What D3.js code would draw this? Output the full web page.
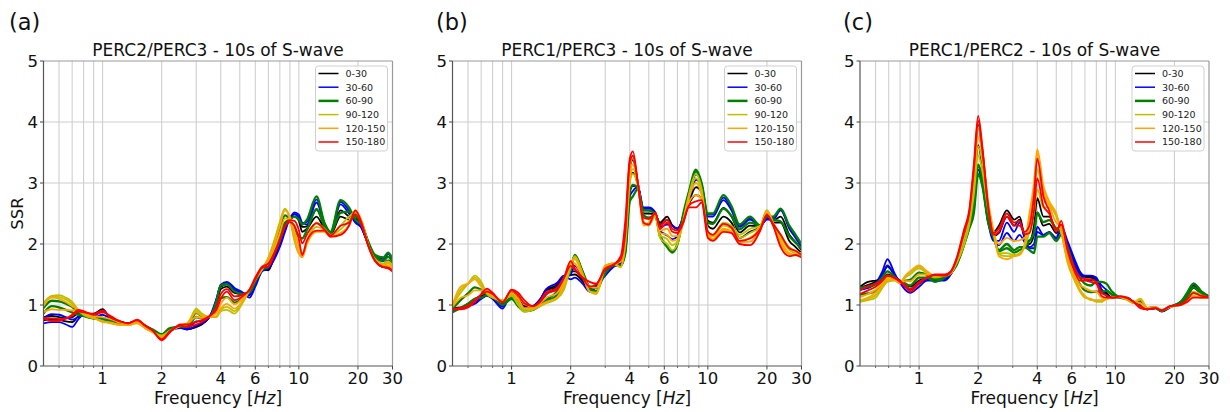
<!DOCTYPE html>
<html><head><meta charset="utf-8">
<script src="https://cdn.jsdelivr.net/npm/d3@7"></script>
<style>html,body{margin:0;padding:0;background:#fff;} svg{display:block;font-family:"DejaVu Sans",sans-serif;}</style>
</head><body><svg id="chart" width="1230" height="412"></svg>
<script>
// ---------- labels / ticks ----------
const angleBins = ["0-30","30-60","60-90","90-120","120-150","150-180"];
const binColors = ["#000000","#0000ff","#008000","#bfbf00","#ffa500","#ff0000"];
const panelLabels = ["(a)","(b)","(c)"];
const panelTitles = ["PERC2/PERC3 - 10s of S-wave","PERC1/PERC3 - 10s of S-wave","PERC1/PERC2 - 10s of S-wave"];
const xTickValues = [1,2,4,6,10,20,30];
const xGridValues = [0.6,0.7,0.8,0.9,1,2,3,4,5,6,7,8,9,10,20];
const xMinorTicks = [0.6,0.7,0.8,0.9,3,5,7,8,9];
const yTickValues = [0,1,2,3,4,5];

// ---------- panel (a) PERC2/PERC3 ----------
const freqA = [0.5,0.55,0.6,0.65,0.7,0.75,0.8,0.9,1.0,1.1,1.2,1.35,1.5,1.65,1.8,2.0,2.2,2.5,2.7,3.0,3.2,3.5,3.8,4.0,4.3,4.7,5.2,5.6,6.0,6.5,7.0,7.5,8.0,8.5,9.0,9.5,10.0,10.4,11.0,12.3,13.5,14.5,16.3,18.0,19.4,21.0,22.5,24.5,27.0,28.5,30];
const a_0_30 = [
 [0.80,0.82,0.80,0.78,0.80,0.86,0.86,0.86,0.93,0.76,0.72,0.70,0.74,0.66,0.58,0.46,0.58,0.64,0.60,0.64,0.68,0.80,1.00,1.26,1.30,1.20,1.18,1.22,1.38,1.58,1.57,1.80,2.05,2.30,2.42,2.45,2.38,2.20,2.25,2.45,2.25,2.15,2.45,2.40,2.42,2.25,2.00,1.72,1.62,1.62,1.58],
 [0.75,0.77,0.76,0.73,0.72,0.81,0.85,0.84,0.92,0.78,0.73,0.70,0.74,0.66,0.58,0.47,0.58,0.63,0.60,0.65,0.69,0.80,1.05,1.30,1.34,1.24,1.19,1.17,1.34,1.57,1.59,1.78,2.00,2.25,2.42,2.49,2.43,2.28,2.29,2.57,2.29,2.16,2.55,2.45,2.39,2.25,2.00,1.74,1.67,1.73,1.65]];
const a_30_60 = [
 [0.70,0.72,0.72,0.68,0.64,0.76,0.84,0.82,0.90,0.80,0.74,0.70,0.74,0.65,0.58,0.48,0.58,0.62,0.60,0.66,0.70,0.80,1.10,1.33,1.38,1.28,1.20,1.12,1.30,1.55,1.60,1.75,1.95,2.20,2.42,2.52,2.48,2.35,2.32,2.68,2.32,2.17,2.65,2.50,2.35,2.25,2.00,1.75,1.72,1.84,1.72],
 [0.78,0.85,0.84,0.80,0.76,0.80,0.83,0.80,0.84,0.77,0.72,0.69,0.74,0.66,0.59,0.50,0.60,0.63,0.62,0.73,0.74,0.80,1.08,1.33,1.36,1.25,1.19,1.16,1.34,1.57,1.62,1.83,2.05,2.28,2.41,2.49,2.44,2.34,2.36,2.73,2.34,2.19,2.69,2.55,2.38,2.28,2.03,1.79,1.75,1.85,1.74]];
const a_60_90 = [
 [0.86,0.98,0.96,0.92,0.88,0.84,0.82,0.78,0.78,0.74,0.70,0.68,0.73,0.66,0.60,0.52,0.62,0.64,0.64,0.80,0.78,0.80,1.06,1.32,1.34,1.22,1.18,1.20,1.38,1.58,1.63,1.90,2.15,2.35,2.40,2.45,2.40,2.32,2.40,2.78,2.35,2.20,2.72,2.60,2.40,2.30,2.05,1.82,1.78,1.86,1.75],
 [0.95,1.07,1.06,1.02,0.97,0.88,0.83,0.78,0.76,0.72,0.69,0.68,0.73,0.64,0.58,0.51,0.60,0.65,0.66,0.87,0.82,0.80,0.93,1.11,1.13,1.04,1.12,1.22,1.40,1.58,1.71,1.98,2.26,2.47,2.40,2.25,2.13,2.09,2.23,2.57,2.30,2.18,2.51,2.53,2.46,2.33,2.03,1.79,1.73,1.79,1.70]];
const a_90_120 = [
 [1.03,1.15,1.16,1.12,1.05,0.92,0.84,0.78,0.74,0.70,0.68,0.67,0.72,0.62,0.56,0.50,0.58,0.66,0.68,0.94,0.86,0.80,0.80,0.90,0.92,0.86,1.05,1.24,1.42,1.58,1.78,2.06,2.36,2.58,2.40,2.05,1.85,1.85,2.05,2.35,2.25,2.15,2.30,2.45,2.52,2.35,2.00,1.75,1.68,1.72,1.65],
 [1.01,1.14,1.13,1.09,1.02,0.92,0.85,0.79,0.73,0.71,0.68,0.67,0.71,0.62,0.56,0.49,0.57,0.66,0.69,0.91,0.84,0.80,0.81,0.92,0.97,0.90,1.07,1.25,1.42,1.59,1.77,2.03,2.33,2.57,2.43,2.09,1.85,1.82,2.03,2.28,2.23,2.14,2.24,2.38,2.54,2.35,2.00,1.74,1.67,1.70,1.64]];
const a_120_150 = [
 [0.98,1.12,1.10,1.05,0.98,0.92,0.86,0.80,0.72,0.71,0.68,0.67,0.70,0.62,0.55,0.47,0.56,0.66,0.70,0.88,0.82,0.80,0.82,0.94,1.02,0.94,1.08,1.25,1.42,1.60,1.75,2.00,2.30,2.55,2.45,2.12,1.85,1.78,2.00,2.20,2.20,2.12,2.18,2.30,2.55,2.35,2.00,1.72,1.65,1.68,1.62],
 [0.88,0.93,0.92,0.92,0.91,0.92,0.88,0.82,0.80,0.77,0.72,0.69,0.73,0.64,0.57,0.45,0.56,0.67,0.69,0.80,0.79,0.81,0.87,1.02,1.12,1.01,1.12,1.25,1.44,1.62,1.72,1.93,2.18,2.42,2.41,2.21,1.97,1.80,2.03,2.21,2.21,2.12,2.17,2.30,2.55,2.34,1.99,1.72,1.64,1.64,1.59]];
const a_150_180 = [
 [0.78,0.74,0.74,0.78,0.84,0.92,0.90,0.84,0.88,0.82,0.75,0.70,0.76,0.66,0.58,0.42,0.55,0.68,0.68,0.72,0.75,0.82,0.92,1.10,1.22,1.08,1.15,1.25,1.45,1.63,1.68,1.85,2.05,2.28,2.36,2.30,2.08,1.82,2.06,2.22,2.22,2.12,2.15,2.30,2.55,2.32,1.98,1.72,1.62,1.60,1.55],
 [0.79,0.78,0.77,0.78,0.82,0.89,0.88,0.85,0.91,0.79,0.74,0.70,0.75,0.66,0.58,0.44,0.57,0.66,0.64,0.68,0.72,0.81,0.96,1.18,1.26,1.14,1.17,1.24,1.42,1.61,1.63,1.83,2.05,2.29,2.39,2.38,2.23,2.01,2.16,2.34,2.24,2.14,2.30,2.35,2.49,2.29,1.99,1.72,1.62,1.61,1.57]];

// ---------- panel (b) PERC1/PERC3 ----------
const freqB = [0.5,0.55,0.6,0.65,0.7,0.75,0.8,0.9,1.0,1.08,1.16,1.28,1.4,1.5,1.7,1.85,2.0,2.1,2.3,2.5,2.7,3.0,3.3,3.6,3.8,4.0,4.15,4.4,4.7,5.0,5.4,5.7,6.2,6.6,7.0,7.5,8.0,8.7,9.3,10.0,10.6,12.0,13.2,14.5,16.4,18.5,20.0,21.5,23.5,26,28,30];
const b_0_30 = [
 [0.95,0.96,1.02,1.10,1.15,1.17,1.15,1.02,1.22,1.12,0.98,0.98,1.08,1.24,1.30,1.45,1.55,1.55,1.42,1.22,1.32,1.55,1.65,1.70,2.00,3.25,3.38,3.00,2.50,2.50,2.48,2.35,2.45,2.30,2.25,2.40,2.65,2.80,2.75,2.30,2.25,2.45,2.35,2.10,2.20,2.28,2.45,2.35,2.35,2.05,1.95,1.85],
 [0.94,0.95,1.00,1.06,1.13,1.16,1.13,0.98,1.21,1.10,0.97,0.98,1.09,1.25,1.33,1.47,1.49,1.50,1.39,1.22,1.31,1.52,1.64,1.70,1.95,3.05,3.17,2.98,2.55,2.55,2.50,2.32,2.39,2.30,2.25,2.43,2.68,2.93,2.85,2.38,2.35,2.59,2.45,2.19,2.30,2.29,2.43,2.38,2.45,2.15,2.03,1.90]];
const b_30_60 = [
 [0.92,0.94,0.98,1.02,1.10,1.15,1.10,0.94,1.20,1.08,0.96,0.98,1.10,1.26,1.36,1.48,1.42,1.45,1.35,1.22,1.30,1.48,1.62,1.70,1.90,2.85,2.95,2.95,2.60,2.60,2.52,2.28,2.32,2.30,2.25,2.45,2.70,3.05,2.95,2.45,2.45,2.72,2.55,2.28,2.40,2.30,2.40,2.40,2.55,2.25,2.10,1.95],
 [0.90,0.95,1.00,1.06,1.11,1.16,1.12,0.97,1.15,1.03,0.93,0.95,1.05,1.17,1.29,1.45,1.50,1.64,1.45,1.26,1.29,1.50,1.64,1.68,1.88,2.78,2.87,2.93,2.58,2.58,2.50,2.22,2.14,2.08,2.13,2.48,2.78,3.14,2.98,2.48,2.48,2.76,2.59,2.30,2.43,2.30,2.43,2.43,2.57,2.28,2.13,1.98]];
const b_60_90 = [
 [0.88,0.95,1.02,1.10,1.12,1.16,1.14,1.00,1.10,0.98,0.90,0.92,1.00,1.08,1.22,1.42,1.58,1.82,1.55,1.30,1.28,1.52,1.65,1.65,1.85,2.70,2.78,2.90,2.55,2.55,2.48,2.15,1.95,1.86,2.00,2.50,2.85,3.22,3.00,2.50,2.50,2.80,2.62,2.32,2.45,2.30,2.45,2.45,2.58,2.30,2.15,2.00],
 [0.94,1.08,1.19,1.29,1.25,1.17,1.13,1.04,1.13,0.99,0.90,0.92,0.99,1.06,1.16,1.34,1.60,1.81,1.54,1.26,1.23,1.56,1.67,1.64,1.93,2.85,2.97,2.93,2.47,2.43,2.47,2.13,1.98,1.88,2.00,2.45,2.83,3.19,2.95,2.35,2.33,2.58,2.46,2.24,2.35,2.30,2.50,2.40,2.37,2.13,2.02,1.93]];
const b_90_120 = [
 [1.00,1.20,1.35,1.48,1.38,1.18,1.12,1.08,1.15,1.00,0.89,0.92,0.98,1.03,1.10,1.25,1.62,1.80,1.52,1.22,1.18,1.60,1.68,1.62,2.00,3.00,3.15,2.95,2.38,2.30,2.45,2.10,2.00,1.90,2.00,2.40,2.80,3.15,2.90,2.20,2.15,2.35,2.30,2.15,2.25,2.30,2.55,2.35,2.15,1.95,1.88,1.85],
 [1.00,1.25,1.35,1.45,1.34,1.20,1.14,1.07,1.18,1.05,0.92,0.94,0.99,1.04,1.11,1.30,1.66,1.78,1.50,1.22,1.19,1.63,1.68,1.62,2.05,3.05,3.23,2.98,2.34,2.33,2.48,2.14,2.08,1.98,2.04,2.38,2.78,3.08,2.85,2.20,2.12,2.30,2.25,2.10,2.18,2.29,2.55,2.34,2.10,1.90,1.85,1.83]];
const b_120_150 = [
 [1.00,1.30,1.35,1.42,1.30,1.22,1.15,1.05,1.20,1.10,0.95,0.95,1.00,1.05,1.12,1.35,1.70,1.75,1.48,1.22,1.20,1.65,1.68,1.62,2.10,3.10,3.30,3.00,2.30,2.35,2.50,2.18,2.15,2.05,2.08,2.35,2.75,3.00,2.80,2.20,2.08,2.25,2.20,2.05,2.10,2.28,2.55,2.32,2.05,1.85,1.82,1.80],
 [0.97,1.12,1.16,1.24,1.24,1.25,1.18,1.05,1.23,1.15,1.02,0.97,1.03,1.12,1.19,1.40,1.71,1.68,1.47,1.30,1.28,1.63,1.67,1.71,2.25,3.25,3.41,3.00,2.33,2.34,2.51,2.22,2.25,2.13,2.13,2.35,2.68,2.80,2.74,2.15,2.07,2.23,2.19,2.03,2.04,2.25,2.52,2.31,2.00,1.83,1.82,1.79]];
const b_150_180 = [
 [0.93,0.93,0.96,1.05,1.18,1.27,1.20,1.05,1.25,1.20,1.08,0.98,1.05,1.18,1.25,1.45,1.72,1.60,1.45,1.38,1.35,1.60,1.66,1.80,2.40,3.40,3.52,3.00,2.35,2.32,2.52,2.25,2.35,2.20,2.18,2.35,2.60,2.60,2.68,2.10,2.05,2.20,2.18,2.00,1.98,2.22,2.48,2.30,1.95,1.80,1.82,1.78],
 [0.94,0.95,0.99,1.08,1.17,1.22,1.18,1.04,1.24,1.16,1.03,0.98,1.07,1.21,1.28,1.45,1.64,1.58,1.44,1.30,1.34,1.58,1.66,1.75,2.20,3.33,3.45,3.00,2.43,2.41,2.50,2.30,2.40,2.25,2.22,2.38,2.63,2.70,2.72,2.20,2.15,2.33,2.27,2.05,2.09,2.25,2.47,2.33,2.15,1.93,1.89,1.82]];

// ---------- panel (c) PERC1/PERC2 ----------
const freqC = [0.5,0.55,0.6,0.65,0.69,0.75,0.8,0.85,0.9,1.0,1.1,1.2,1.35,1.45,1.55,1.7,1.8,1.9,2.0,2.1,2.25,2.4,2.55,2.8,3.05,3.25,3.45,3.65,3.85,4.0,4.3,4.6,5.0,5.3,5.7,6.2,6.6,7.0,7.5,8.0,8.5,9.0,9.6,10.6,11.5,12.4,13.4,14.5,16,17.2,19,21.5,23.2,25,27.5,30];
const c_0_30 = [
 [1.30,1.38,1.40,1.42,1.50,1.45,1.40,1.35,1.30,1.40,1.45,1.48,1.45,1.52,1.72,2.15,2.45,3.10,3.95,3.50,2.60,2.20,2.30,2.55,2.40,2.45,2.12,2.05,2.30,2.75,2.45,2.45,2.25,2.25,1.95,1.65,1.50,1.46,1.45,1.40,1.25,1.20,1.12,1.13,1.10,1.05,1.00,0.93,0.95,0.90,0.97,1.02,1.12,1.28,1.18,1.13],
 [1.28,1.33,1.38,1.49,1.63,1.49,1.38,1.30,1.25,1.35,1.43,1.44,1.43,1.51,1.71,2.10,2.40,2.85,3.62,3.25,2.48,2.13,2.18,2.45,2.30,2.40,2.11,2.00,2.15,2.52,2.30,2.33,2.18,2.28,2.00,1.70,1.53,1.47,1.47,1.43,1.25,1.18,1.12,1.13,1.11,1.05,1.00,0.93,0.95,0.90,0.97,1.04,1.14,1.32,1.20,1.14]];
const c_30_60 = [
 [1.25,1.28,1.35,1.55,1.75,1.52,1.36,1.25,1.20,1.30,1.40,1.40,1.40,1.50,1.70,2.05,2.35,2.60,3.30,3.00,2.35,2.05,2.05,2.35,2.20,2.35,2.10,1.95,2.00,2.28,2.15,2.20,2.10,2.30,2.05,1.75,1.55,1.48,1.48,1.45,1.25,1.15,1.12,1.12,1.12,1.05,1.00,0.93,0.95,0.89,0.96,1.05,1.15,1.35,1.22,1.14],
 [1.27,1.29,1.35,1.50,1.65,1.49,1.37,1.30,1.26,1.38,1.43,1.39,1.43,1.51,1.68,2.03,2.30,2.55,3.22,2.98,2.35,2.08,1.98,2.18,2.05,2.15,2.03,1.93,1.93,2.20,2.14,2.19,2.08,2.23,2.00,1.68,1.50,1.42,1.40,1.42,1.32,1.25,1.17,1.12,1.11,1.05,1.01,0.94,0.95,0.90,0.97,1.05,1.18,1.35,1.22,1.14]];
const c_60_90 = [
 [1.28,1.30,1.34,1.45,1.55,1.46,1.38,1.35,1.32,1.45,1.45,1.38,1.45,1.52,1.65,2.00,2.25,2.50,3.15,2.95,2.35,2.10,1.90,2.00,1.90,1.95,1.95,1.90,1.85,2.12,2.12,2.18,2.05,2.15,1.95,1.60,1.45,1.35,1.32,1.38,1.38,1.35,1.22,1.12,1.10,1.05,1.02,0.94,0.95,0.90,0.97,1.05,1.20,1.35,1.22,1.14],
 [1.17,1.19,1.23,1.37,1.47,1.43,1.37,1.40,1.41,1.53,1.49,1.42,1.47,1.52,1.67,2.00,2.28,2.65,3.30,3.08,2.45,2.13,1.88,1.93,1.86,1.90,1.95,2.05,2.18,2.51,2.36,2.39,2.25,2.18,1.83,1.50,1.34,1.24,1.21,1.22,1.22,1.23,1.17,1.13,1.09,1.04,1.06,0.95,0.96,0.91,0.97,1.03,1.14,1.29,1.19,1.13]];
const c_90_120 = [
 [1.05,1.08,1.12,1.28,1.38,1.40,1.35,1.45,1.50,1.60,1.52,1.45,1.48,1.52,1.68,2.00,2.30,2.80,3.45,3.20,2.55,2.15,1.85,1.85,1.82,1.85,1.95,2.20,2.50,2.90,2.60,2.60,2.45,2.20,1.70,1.40,1.22,1.12,1.10,1.05,1.05,1.10,1.12,1.13,1.08,1.03,1.10,0.95,0.96,0.91,0.97,1.00,1.08,1.22,1.16,1.12],
 [1.07,1.10,1.16,1.30,1.40,1.41,1.36,1.47,1.53,1.63,1.54,1.47,1.48,1.52,1.70,2.10,2.38,2.95,3.60,3.35,2.63,2.18,1.83,1.80,1.81,1.84,1.98,2.35,2.75,3.23,2.78,2.65,2.48,2.20,1.73,1.43,1.24,1.14,1.09,1.07,1.07,1.10,1.12,1.13,1.09,1.04,1.10,0.95,0.96,0.92,0.97,1.00,1.07,1.19,1.14,1.12]];
const c_120_150 = [
 [1.08,1.12,1.20,1.32,1.42,1.42,1.36,1.48,1.55,1.65,1.55,1.48,1.48,1.52,1.72,2.20,2.45,3.10,3.75,3.50,2.70,2.20,1.80,1.75,1.80,1.82,2.00,2.50,3.00,3.55,2.95,2.70,2.50,2.20,1.75,1.45,1.25,1.15,1.08,1.08,1.08,1.10,1.12,1.13,1.10,1.05,1.10,0.95,0.96,0.92,0.97,1.00,1.05,1.15,1.12,1.12],
 [1.13,1.18,1.25,1.36,1.45,1.43,1.37,1.39,1.39,1.50,1.50,1.49,1.49,1.54,1.74,2.23,2.50,3.20,3.92,3.55,2.65,2.18,2.00,2.10,2.05,2.06,2.10,2.40,2.90,3.48,2.87,2.63,2.35,2.29,1.83,1.50,1.33,1.28,1.23,1.22,1.12,1.11,1.12,1.14,1.11,1.05,1.03,0.94,0.96,0.92,0.98,1.00,1.05,1.14,1.12,1.12]];
const c_150_180 = [
 [1.18,1.24,1.30,1.40,1.48,1.44,1.38,1.30,1.22,1.35,1.45,1.50,1.50,1.55,1.76,2.25,2.55,3.30,4.10,3.60,2.60,2.15,2.20,2.45,2.30,2.30,2.20,2.30,2.80,3.40,2.78,2.55,2.20,2.38,1.90,1.55,1.40,1.40,1.38,1.35,1.15,1.12,1.12,1.14,1.12,1.05,0.95,0.93,0.95,0.91,0.98,1.00,1.05,1.12,1.12,1.12],
 [1.24,1.31,1.35,1.41,1.49,1.45,1.39,1.33,1.26,1.38,1.45,1.49,1.48,1.54,1.74,2.20,2.50,3.20,4.02,3.55,2.60,2.18,2.25,2.50,2.35,2.38,2.16,2.18,2.55,3.08,2.62,2.50,2.23,2.32,1.93,1.60,1.45,1.43,1.42,1.38,1.20,1.16,1.12,1.14,1.11,1.05,0.98,0.93,0.95,0.91,0.98,1.01,1.09,1.20,1.15,1.13]];

// ---------- assemble ----------
const panels = [
  {label: panelLabels[0], title: panelTitles[0], freq: freqA, groups: [a_0_30,a_30_60,a_60_90,a_90_120,a_120_150,a_150_180]},
  {label: panelLabels[1], title: panelTitles[1], freq: freqB, groups: [b_0_30,b_30_60,b_60_90,b_90_120,b_120_150,b_150_180]},
  {label: panelLabels[2], title: panelTitles[2], freq: freqC, groups: [c_0_30,c_30_60,c_60_90,c_90_120,c_120_150,c_150_180]}
];

const svg = d3.select("#chart");
const panelLefts = [43.5, 452.5, 860];
const labelXs = [9, 436, 843];
const plotW = 349, plotTop = 61, plotH = 305;

panels.forEach((p, pi) => {
  const L = panelLefts[pi];
  const x = d3.scaleLog().domain([0.5, 30]).range([L, L + plotW]);
  const y = d3.scaleLinear().domain([0, 5]).range([plotTop + plotH, plotTop]);
  const g = svg.append("g");

  const cid = "clip" + pi;
  svg.append("defs").append("clipPath").attr("id", cid)
    .append("rect").attr("x", L).attr("y", plotTop).attr("width", plotW).attr("height", plotH);

  // grid
  g.selectAll(".hg").data([1,2,3,4]).join("line")
    .attr("x1", L).attr("x2", L + plotW).attr("y1", d => y(d)).attr("y2", d => y(d))
    .attr("stroke", "#dedede").attr("stroke-width", 1.4);
  g.selectAll(".vg").data(xGridValues).join("line")
    .attr("x1", d => x(d)).attr("x2", d => x(d)).attr("y1", plotTop).attr("y2", plotTop + plotH)
    .attr("stroke", "#cfcfcf").attr("stroke-width", 1.1);

  // lines
  const line = d3.line().x(d => x(d[0])).y(d => y(d[1])).defined(d => d[1] != null).curve(d3.curveMonotoneX);
  const lg = g.append("g").attr("clip-path", `url(#${cid})`);
  p.groups.forEach((grp, gi) => {
    grp.forEach(vals => {
      lg.append("path")
        .attr("d", line(p.freq.map((f, i) => [f, vals[i]])))
        .attr("fill", "none")
        .attr("stroke", binColors[gi])
        .attr("stroke-width", gi === 2 ? 2.3 : 1.8)
        .attr("stroke-linejoin", "round");
    });
  });

  // spines
  g.append("line").attr("x1", L).attr("x2", L + plotW).attr("y1", plotTop).attr("y2", plotTop).attr("stroke", "#9a9a9a").attr("stroke-width", 1.2);
  g.append("line").attr("x1", L + plotW).attr("x2", L + plotW).attr("y1", plotTop).attr("y2", plotTop + plotH).attr("stroke", "#9a9a9a").attr("stroke-width", 1.2);
  g.append("line").attr("x1", L).attr("x2", L).attr("y1", plotTop).attr("y2", plotTop + plotH).attr("stroke", "#555").attr("stroke-width", 1.2);
  g.append("line").attr("x1", L).attr("x2", L + plotW).attr("y1", plotTop + plotH).attr("y2", plotTop + plotH).attr("stroke", "#555").attr("stroke-width", 1.2);

  // y ticks
  g.selectAll(".yt").data(yTickValues).join("line")
    .attr("x1", L - 3.5).attr("x2", L).attr("y1", d => y(d)).attr("y2", d => y(d)).attr("stroke", "#444");
  g.selectAll(".ytl").data(yTickValues).join("text")
    .attr("x", L - 5.5).attr("y", d => y(d)).attr("dy", "0.36em")
    .attr("text-anchor", "end").attr("font-size", 16.5).attr("fill", "#111").text(d => d);

  // x ticks
  g.selectAll(".xt").data(xTickValues).join("line")
    .attr("x1", d => x(d)).attr("x2", d => x(d)).attr("y1", plotTop + plotH).attr("y2", plotTop + plotH + 3.5).attr("stroke", "#444");
  g.selectAll(".xm").data(xMinorTicks).join("line")
    .attr("x1", d => x(d)).attr("x2", d => x(d)).attr("y1", plotTop + plotH).attr("y2", plotTop + plotH + 2).attr("stroke", "#666");
  g.selectAll(".xtl").data(xTickValues).join("text")
    .attr("x", d => x(d)).attr("y", 384).attr("text-anchor", "middle")
    .attr("font-size", 16.5).attr("fill", "#111").text(d => d);

  // x label
  const xl = g.append("text").attr("x", L + plotW / 2).attr("y", 404).attr("text-anchor", "middle")
    .attr("font-size", 17).attr("fill", "#111");
  xl.append("tspan").text("Frequency [");
  xl.append("tspan").attr("font-style", "italic").text("Hz");
  xl.append("tspan").text("]");

  // title
  g.append("text").attr("x", L + plotW / 2).attr("y", 56).attr("text-anchor", "middle")
    .attr("font-size", 17).attr("fill", "#111").text(p.title);

  // panel label
  g.append("text").attr("x", labelXs[pi]).attr("y", 30).attr("font-size", 22.5).attr("fill", "#111").text(p.label);

  if (pi === 0) {
    g.append("text").attr("transform", `translate(23,${plotTop + plotH / 2}) rotate(-90)`)
      .attr("text-anchor", "middle").attr("font-size", 16.5).attr("fill", "#111").text("SSR");
  }

  // legend
  const lgW = 72, lgH = 85;
  const lx = L + plotW - 5 - lgW, ly = plotTop + 5;
  const leg = g.append("g").attr("transform", `translate(${lx},${ly})`);
  leg.append("rect").attr("width", lgW).attr("height", lgH).attr("rx", 3)
    .attr("fill", "#fff").attr("fill-opacity", 0.85).attr("stroke", "#d0d0d0").attr("stroke-width", 1);
  angleBins.forEach((b, i) => {
    const yy = 7.5 + i * 13.7;
    leg.append("line").attr("x1", 3).attr("x2", 23).attr("y1", yy).attr("y2", yy)
      .attr("stroke", binColors[i]).attr("stroke-width", i === 2 ? 2.5 : 1.5);
    leg.append("text").attr("x", 30).attr("y", yy).attr("dy", "0.35em")
      .attr("font-size", 9.5).attr("fill", "#222").text(b);
  });
});
</script>
</body></html>
